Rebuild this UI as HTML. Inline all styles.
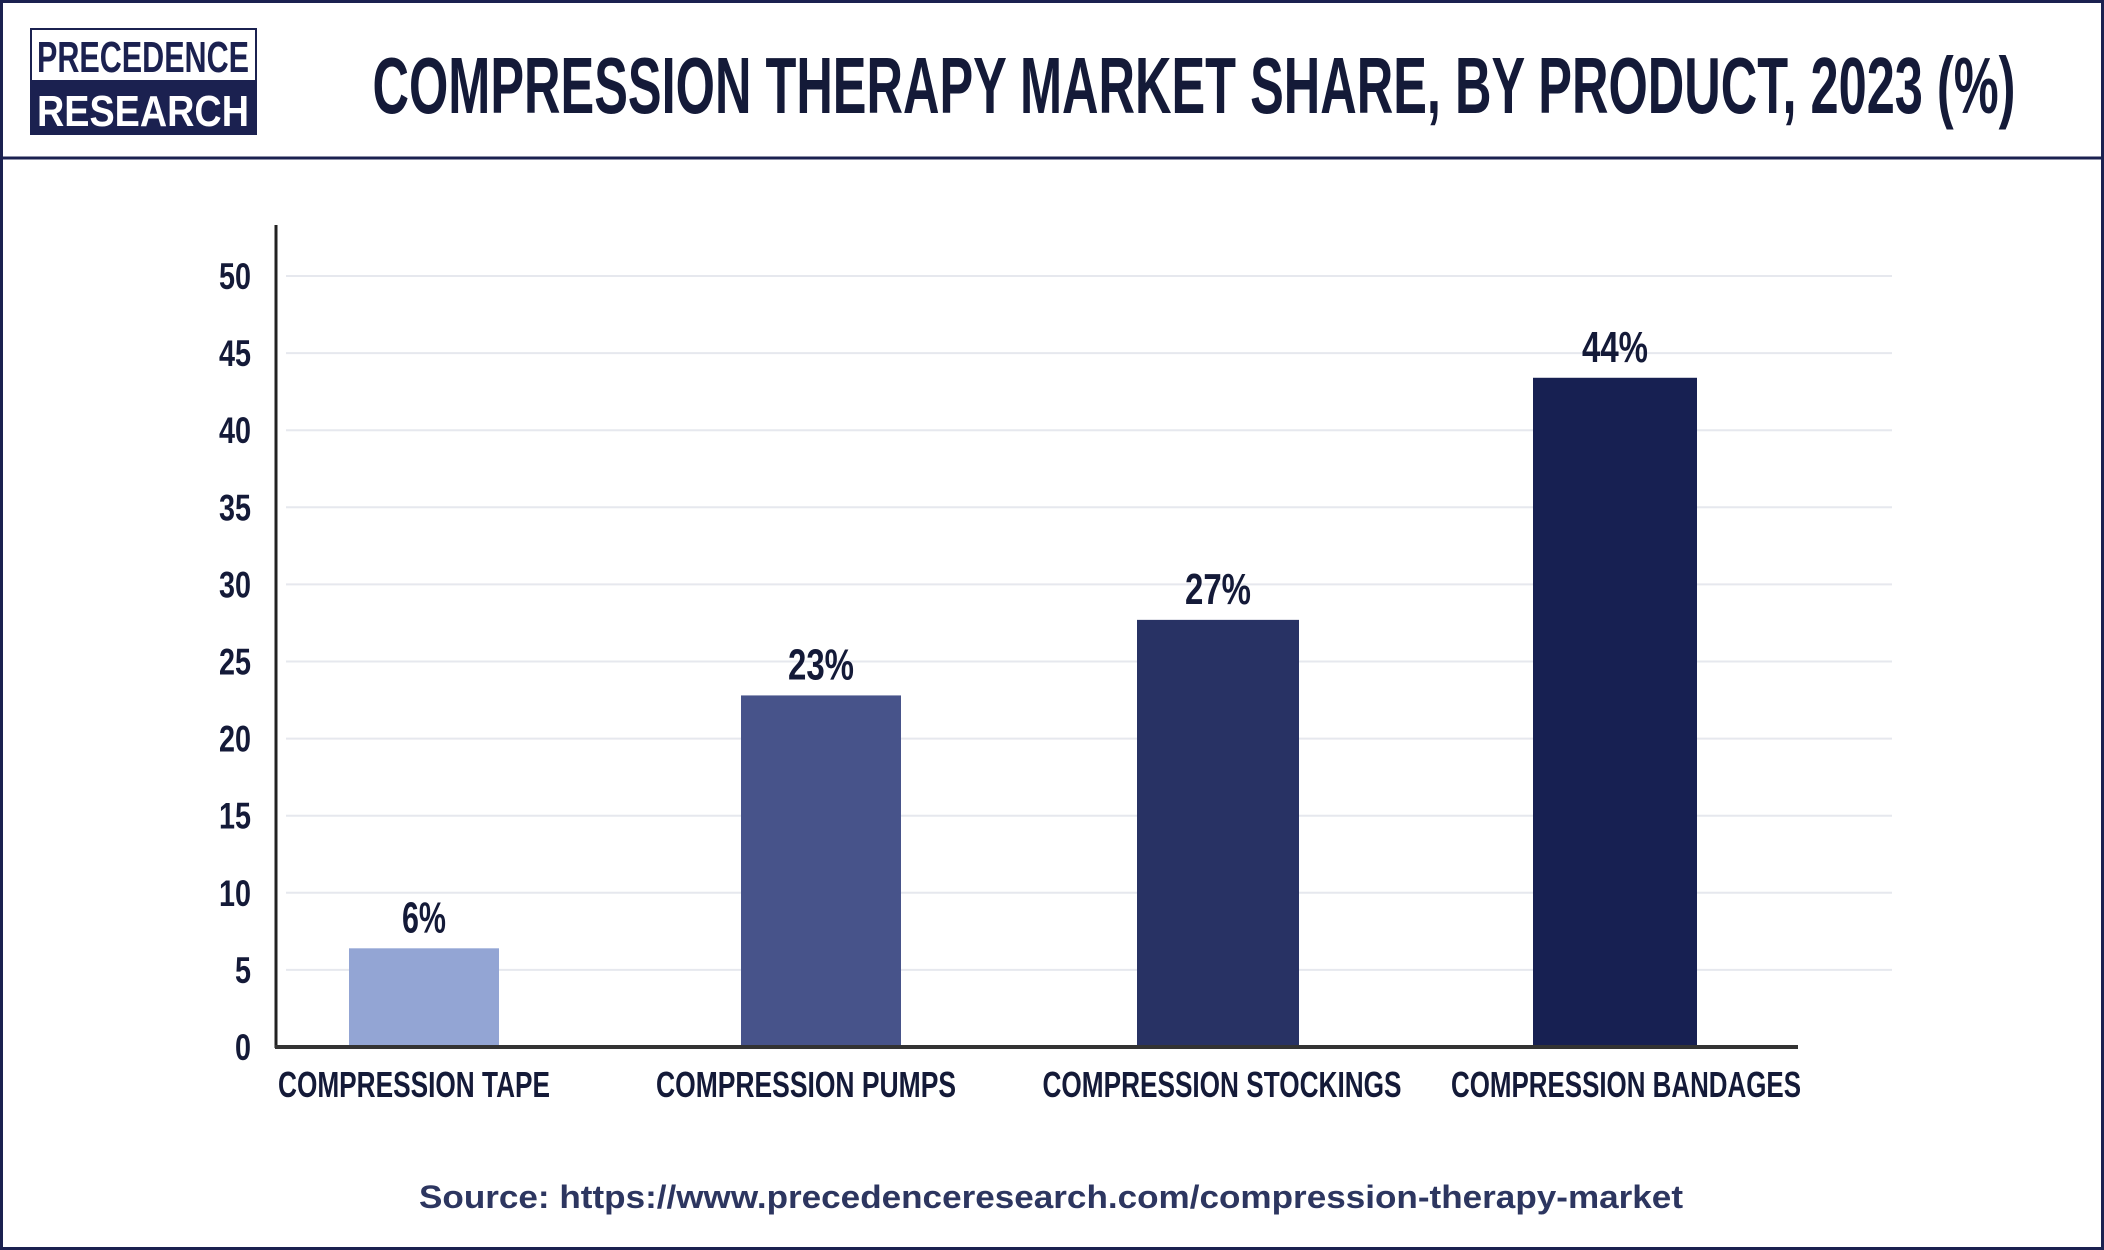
<!DOCTYPE html>
<html><head><meta charset="utf-8"><style>
html,body{margin:0;padding:0;background:#fff;}
svg{display:block;font-family:"Liberation Sans",sans-serif;}
</style></head><body>
<svg id="chart" width="2104" height="1250" viewBox="0 0 2104 1250" xmlns="http://www.w3.org/2000/svg">
<rect x="1.5" y="1.5" width="2101" height="1247" fill="#fff" stroke="#1b2150" stroke-width="3"/>
<line x1="0" y1="158" x2="2104" y2="158" stroke="#1b2150" stroke-width="3"/>
<g>
<rect x="31" y="29" width="225" height="105" fill="#fff" stroke="#1b2150" stroke-width="2"/>
<rect x="31" y="80" width="225" height="54" fill="#1b2150"/>
<text x="143" y="72" text-anchor="middle" font-size="44" font-weight="bold" fill="#1b2150" textLength="212" lengthAdjust="spacingAndGlyphs">PRECEDENCE</text>
<text x="143" y="126" text-anchor="middle" font-size="44" font-weight="bold" fill="#fff" textLength="212" lengthAdjust="spacingAndGlyphs">RESEARCH</text>
</g>
<text x="1194" y="113" text-anchor="middle" font-size="80" font-weight="bold" fill="#141a38" textLength="1643" lengthAdjust="spacingAndGlyphs">COMPRESSION THERAPY MARKET SHARE, BY PRODUCT, 2023 (%)</text>
<g id="grid"></g>
<g id="bars"></g>
<g id="labels"></g>
<line x1="276" y1="225" x2="276" y2="1048" stroke="#222" stroke-width="3"/>
<line x1="275" y1="1047" x2="1798" y2="1047" stroke="#333" stroke-width="4"/>
<text x="1051" y="1208" text-anchor="middle" font-size="32" font-weight="bold" fill="#2d3660" textLength="1264" lengthAdjust="spacingAndGlyphs">Source: https://www.precedenceresearch.com/compression-therapy-market</text>
</svg>
<script>
const categories = ["COMPRESSION TAPE","COMPRESSION PUMPS","COMPRESSION STOCKINGS","COMPRESSION BANDAGES"];
const values = [6.4, 22.8, 27.7, 43.4];
const valueLabels = ["6%","23%","27%","44%"];
const colors = ["#93a5d4","#47538a","#283264","#172052"];
const yTicks = [0,5,10,15,20,25,30,35,40,45,50];
const NS = "http://www.w3.org/2000/svg";
const y = v => 1047 - v * 15.42;
const xc = i => 424 + i * 397;
const barWidths = [150, 160, 162, 164];
const labelWidths = [272, 300, 359, 350];
const labelShift = [-10, -15, 4, 11];
function mk(tag, attrs, parent){const e=document.createElementNS(NS,tag);for(const k in attrs)e.setAttribute(k,attrs[k]);parent.appendChild(e);return e;}
const grid=document.getElementById('grid'), bars=document.getElementById('bars'), labels=document.getElementById('labels');
yTicks.forEach(t=>{
  if(t>0){const l=mk('line',{x1:286,x2:1892,y1:y(t),y2:y(t),stroke:'#e6e8ee','stroke-width':2},grid);
  
  }
  const tx=mk('text',{x:251,y:y(t)+13,'text-anchor':'end','font-size':37,'font-weight':'bold',fill:'#141a38',textLength:String(t).length*16,lengthAdjust:'spacingAndGlyphs'},grid);
  tx.textContent=t;
  
  
});
categories.forEach((c,i)=>{
  const bw=barWidths[i];
  const r=mk('rect',{x:xc(i)-bw/2,y:y(values[i]),width:bw,height:1047-y(values[i]),fill:colors[i]},bars);
  
  
  const v=mk('text',{x:xc(i),y:y(values[i])-16,'text-anchor':'middle','font-size':44,'font-weight':'bold',fill:'#141a38',textLength:valueLabels[i].length*22,lengthAdjust:'spacingAndGlyphs'},labels);
  v.textContent=valueLabels[i];
  
  
  const cl=mk('text',{x:xc(i)+labelShift[i],y:1097,'text-anchor':'middle','font-size':36,'font-weight':'bold',fill:'#141a38',textLength:labelWidths[i],lengthAdjust:'spacingAndGlyphs'},labels);
  cl.textContent=c;
  
  
});
</script>
</body></html>
